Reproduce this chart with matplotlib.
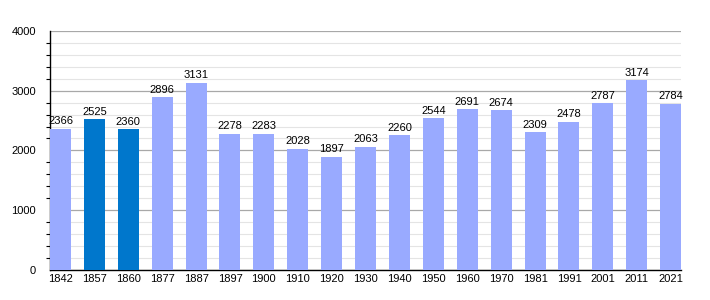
import matplotlib.pyplot as plt
import numpy as np
from matplotlib.ticker import MultipleLocator

years = ['1842', '1857', '1860', '1877', '1887', '1897', '1900', '1910', '1920', '1930',
         '1940', '1950', '1960', '1970', '1981', '1991', '2001', '2011', '2021']
population = [2366, 2525, 2360, 2896, 3131, 2278, 2283, 2028, 1897, 2063,
              2260, 2544, 2691, 2674, 2309, 2478, 2787, 3174, 2784]
highlighted = ['1857', '1860']

light = '#99aaff'
dark = '#0077cc'

plt.rcParams['font.family'] = ['Liberation Sans', 'DejaVu Sans']

fig = plt.figure(figsize=(7.1, 3.0), dpi=100)
ax = fig.add_axes([0.0704, 0.1, 0.889, 0.797])

x = np.arange(len(years))
colors = [dark if y in highlighted else light for y in years]
w = 0.62
ax.bar(x, population, width=w, color=colors, zorder=3)

# value labels above each bar
for xi, v in zip(x, population):
    ax.text(xi, v + 40, str(v), ha='center', va='bottom', fontsize=8, zorder=4)

ax.set_xlim(-w / 2, len(years) - 1 + w / 2)
ax.set_ylim(0, 4000)
ax.set_xticks(x)
ax.set_xticklabels(years, fontsize=8)
ax.yaxis.set_major_locator(MultipleLocator(1000))
ax.yaxis.set_minor_locator(MultipleLocator(200))
ax.tick_params(axis='y', labelsize=8, length=0, pad=10)
ax.tick_params(axis='y', which='minor', length=3, width=0.8, direction='out')
ax.tick_params(axis='x', length=0, pad=3)

ax.grid(axis='y', which='major', color='#a8a8a8', linewidth=0.9, zorder=0)
ax.grid(axis='y', which='minor', color='#e4e4e4', linewidth=0.8, zorder=0)

for side in ['top', 'right']:
    ax.spines[side].set_visible(False)
ax.spines['left'].set_linewidth(1.0)
ax.spines['bottom'].set_linewidth(1.0)

fig.savefig('out.png', dpi=100)
